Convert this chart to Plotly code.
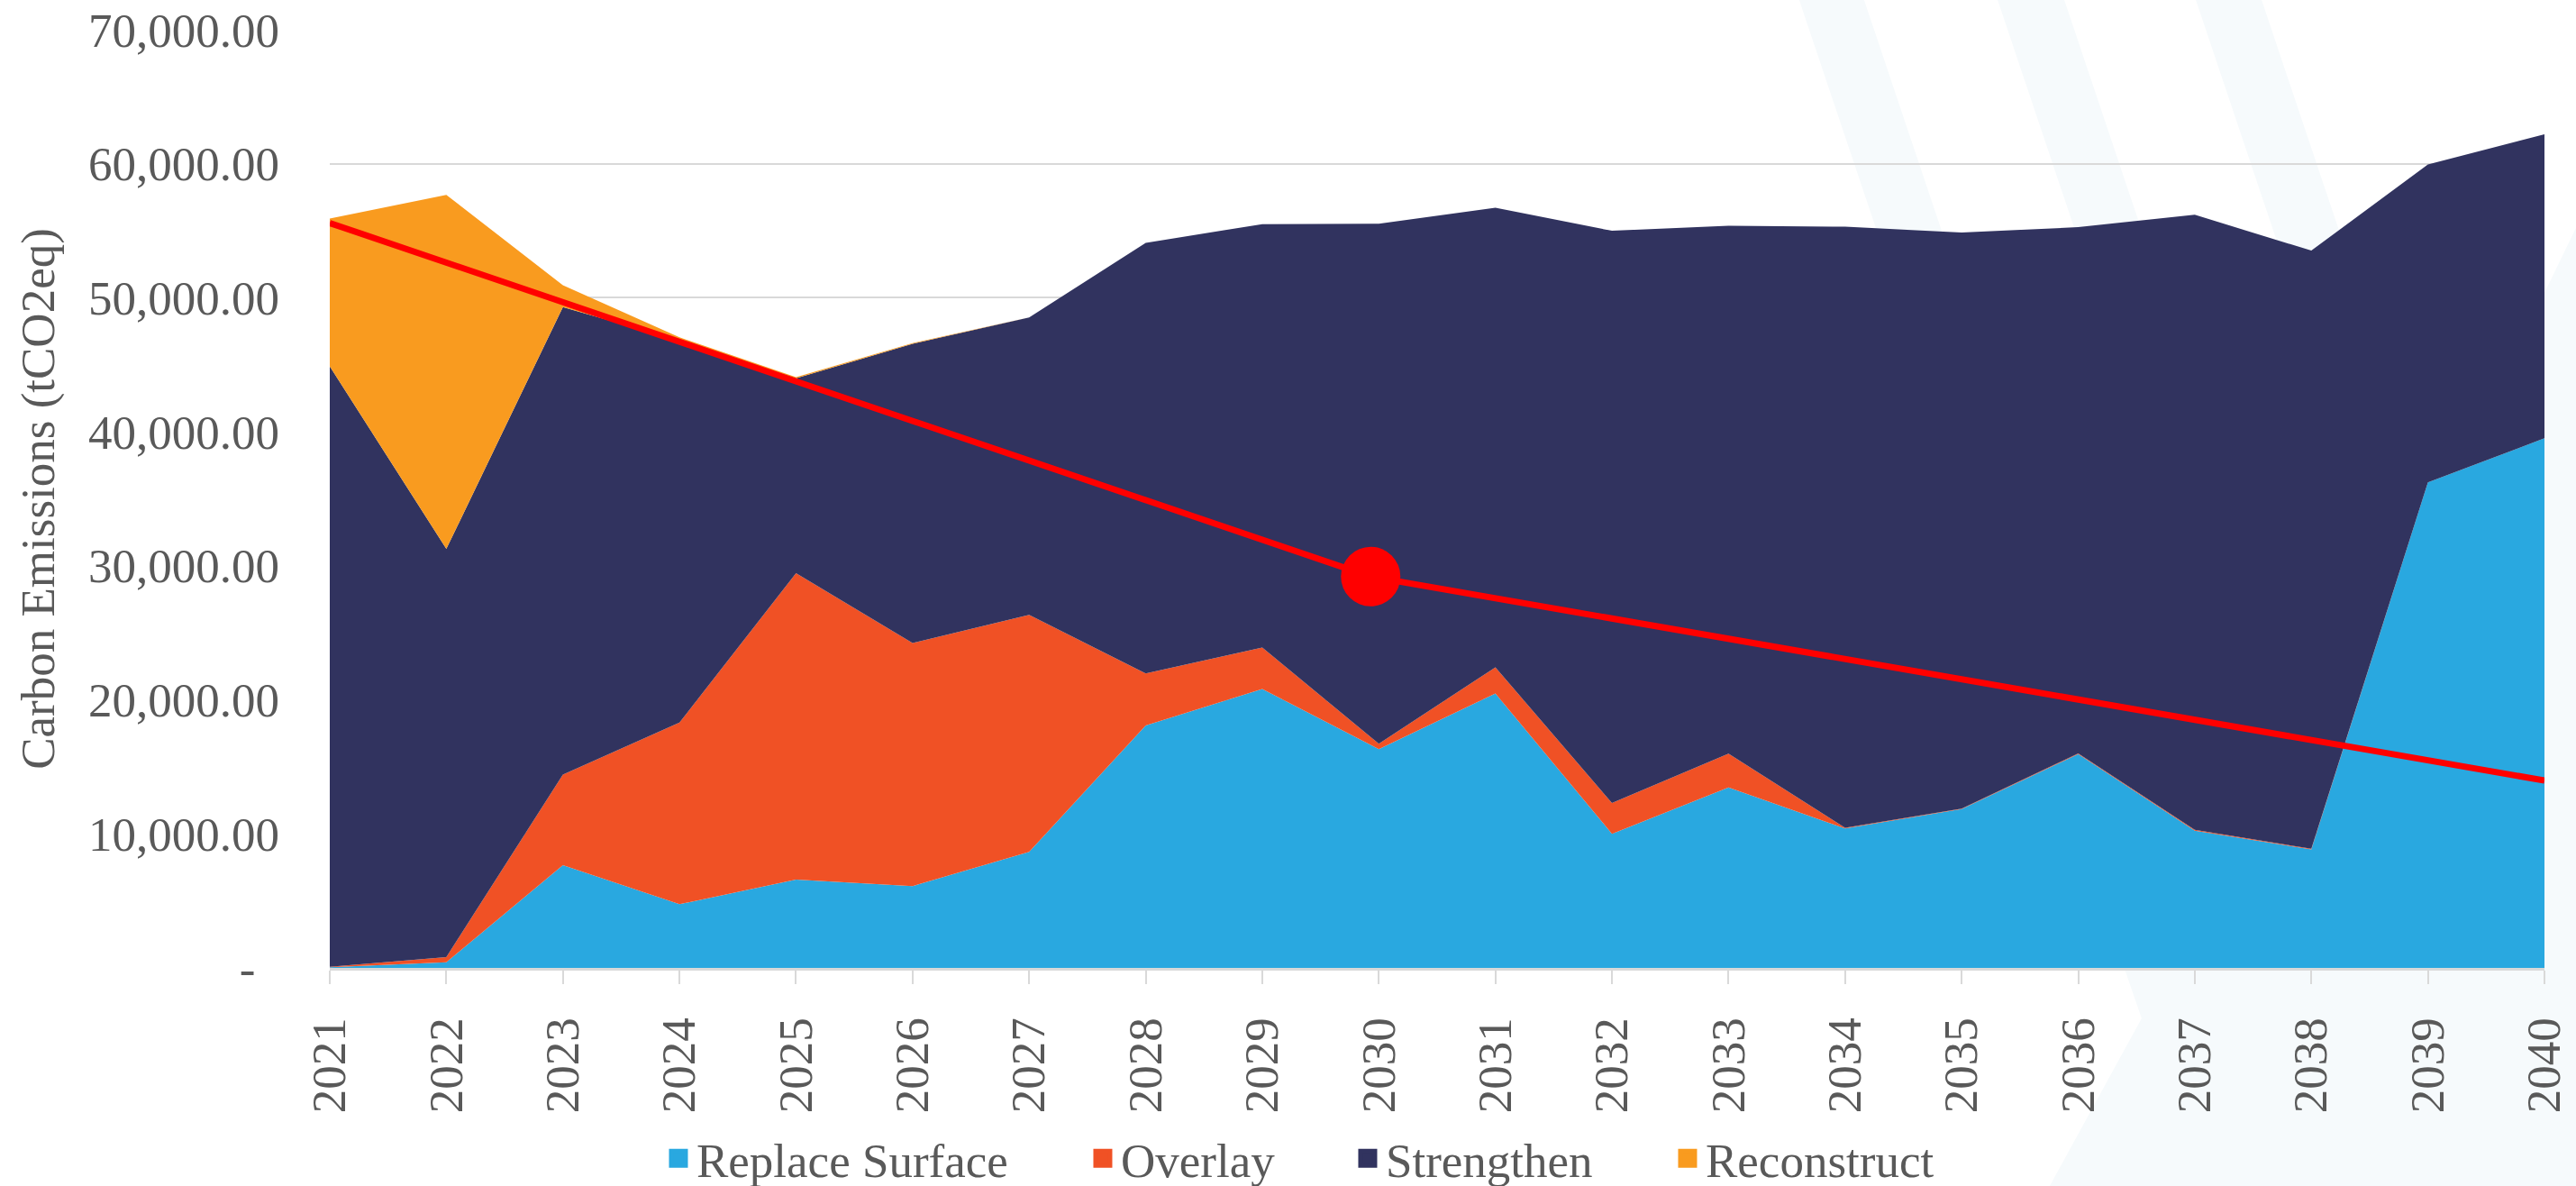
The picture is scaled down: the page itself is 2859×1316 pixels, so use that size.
"""Stacked-area carbon emissions chart by treatment type, with reduction target line."""
import plotly.graph_objects as go

# ---- data ----
years = list(range(2021, 2041))

replace_surface = [50, 420, 7660, 4750, 6590, 6100, 8650, 18080, 20810, 16330,
                   20480, 10010, 13460, 10400, 11850, 15950, 10230, 8850, 36220, 39520]
overlay = [30, 390, 6770, 13550, 22870, 18140, 17690, 3900, 3090, 400,
           1950, 2290, 2530, 60, 40, 60, 80, 40, 0, 0]
strengthen = [44810, 30450, 34880, 28500, 14540, 22330, 22200, 32120, 31600, 38800,
              34290, 42700, 39390, 44840, 42980, 39260, 45880, 44630, 23730, 22680]
reconstruct = [11020, 26420, 1630, 250, 80, 50, 0, 0, 0, 0,
               0, 0, 0, 0, 0, 0, 0, 0, 0, 0]

target_years = [2021, 2029.93, 2040]
target_values = [55580, 29200, 13980]
milestone_year = [2029.93]
milestone_value = [29200]

series_names = ["Replace Surface", "Overlay", "Strengthen", "Reconstruct"]
series_colors = ["#29A8E0", "#F05125", "#31335F", "#F99B1F"]
legend_widths = [426, 249, 310, 260]

y_ticks = [0, 10000, 20000, 30000, 40000, 50000, 60000, 70000]
y_ticktext = ["-\u00a0\u00a0"] + [f"{v:,.2f}" for v in y_ticks[1:]]

FONT = "Liberation Serif, Times New Roman, serif"
GREY = "#595959"
W, H = 2859, 1316
M_L, M_R, M_T, M_B = 366, 35, 33, 242


def to_paper(px, py):
    # pixel position on the page -> paper coordinates (for the faint backdrop)
    pw, ph = W - M_L - M_R, H - M_T - M_B
    return (px - M_L) / pw, (H - M_B - py) / ph


def poly(points):
    pts = [to_paper(x, y) for x, y in points]
    return "M " + " L ".join(f"{x:.4f},{y:.4f}" for x, y in pts) + " Z"


fig = go.Figure()

for name, vals, color in zip(series_names, [replace_surface, overlay, strengthen, reconstruct],
                             series_colors):
    fig.add_trace(go.Scatter(
        x=years, y=vals, name=name, stackgroup="one", mode="none",
        fillcolor=color, showlegend=False, legendgroup=name,
    ))

# target pathway with the 2030 milestone
fig.add_trace(go.Scatter(
    x=target_years, y=target_values, mode="lines",
    line=dict(color="#FF0000", width=7), showlegend=False,
))
fig.add_trace(go.Scatter(
    x=milestone_year, y=milestone_value, mode="markers",
    marker=dict(color="#FF0000", size=66), showlegend=False,
))

# legend-only entries so the swatches are squares
for name, color, lw in zip(series_names, series_colors, legend_widths):
    fig.add_trace(go.Scatter(
        x=[None], y=[None], mode="markers", name=name, legendgroup=name,
        marker=dict(symbol="square", size=16, color=color, line=dict(width=5, color=color)),
        legendwidth=lw,
    ))

# faint diagonal backdrop behind the chart
s = 0.336
backdrop = [
    [(1997, 0), (2069, 0), (2069 + s * 1075, 1075), (1997 + s * 1075, 1075)],
    [(2217, 0), (2291, 0), (2291 + s * 600, 600), (2217 + s * 600, 600)],
    [(2437, 0), (2510, 0), (2510 + s * 600, 600), (2437 + s * 600, 600)],
    [(2859, 253), (2824, 325), (2824, 1075), (2358, 1075), (2377, 1130),
     (2275, 1316), (2859, 1316)],
]
shapes = [dict(type="path", path=poly(p), xref="paper", yref="paper", layer="below",
               fillcolor="#F6FAFC", line=dict(width=0)) for p in backdrop]

fig.update_layout(
    template="none",
    width=W, height=H,
    margin=dict(l=M_L, r=M_R, t=M_T, b=M_B, autoexpand=False),
    paper_bgcolor="white",
    plot_bgcolor="rgba(0,0,0,0)",
    font=dict(family=FONT, size=53, color=GREY),
    shapes=shapes,
    showlegend=True,
    legend=dict(
        orientation="h", xanchor="left", x=0.1493, yanchor="middle", y=-0.203,
        font=dict(family=FONT, size=53, color=GREY), bgcolor="rgba(0,0,0,0)",
        itemsizing="trace",
    ),
    xaxis=dict(
        range=[2021, 2040], tickvals=years, ticktext=[str(y) for y in years],
        tickangle=-90, ticks="outside", ticklen=15, tickwidth=2, tickcolor="#D9D9D9",
        showline=True, linecolor="#D9D9D9", linewidth=3,
        showgrid=False, zeroline=False, ticklabelstandoff=16,
    ),
    yaxis=dict(
        range=[0, 70000], tickvals=y_ticks, ticktext=y_ticktext,
        showgrid=True, gridcolor="#D9D9D9", gridwidth=2,
        zeroline=False, showline=False, ticks="", ticklabelstandoff=55,
        title=dict(text="Carbon Emissions (tCO2eq)", standoff=20,
                   font=dict(family=FONT, size=53, color=GREY)),
    ),
)

fig.write_html("out.html", config={"displayModeBar": False},
               post_script="document.body.style.margin='0';")
